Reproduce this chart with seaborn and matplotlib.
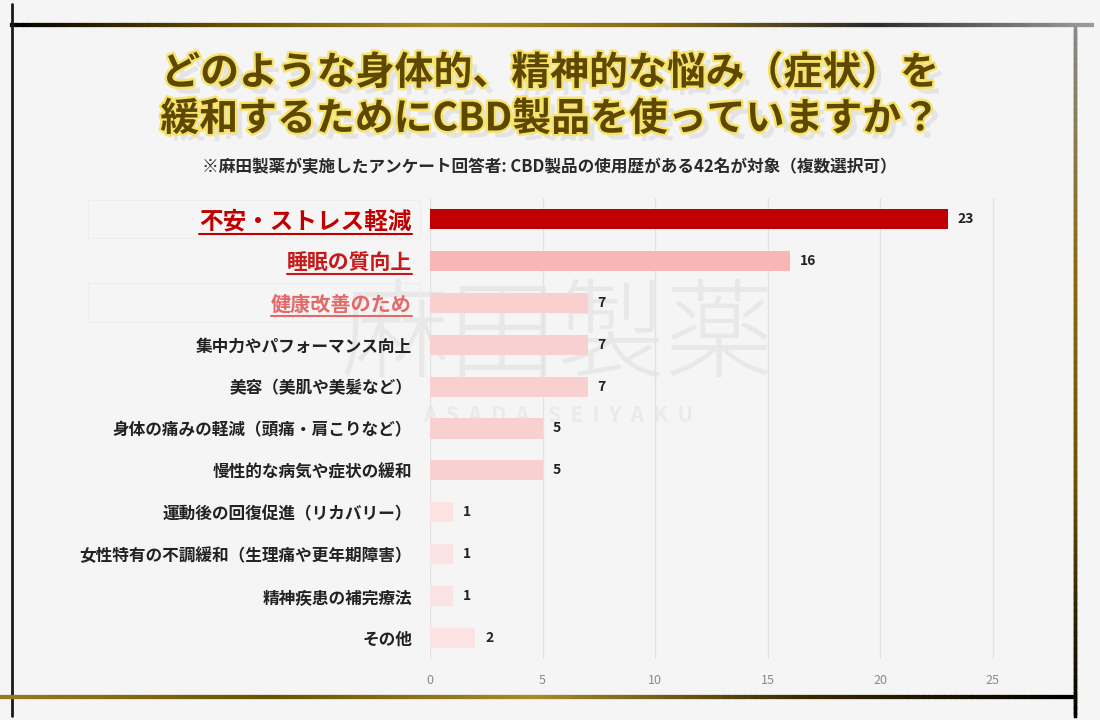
import numpy as np
import pandas as pd
import matplotlib
matplotlib.use("Agg")
import matplotlib.pyplot as plt
import matplotlib.patheffects as pe
from matplotlib.collections import LineCollection
from matplotlib.colors import LinearSegmentedColormap
import seaborn as sns

# ─────────────────────────────────────────────
# DATA
# ─────────────────────────────────────────────
categories = [
    "不安・ストレス軽減",
    "睡眠の質向上",
    "健康改善のため",
    "集中力やパフォーマンス向上",
    "美容（美肌や美髪など）",
    "身体の痛みの軽減（頭痛・肩こりなど）",
    "慢性的な病気や症状の緩和",
    "運動後の回復促進（リカバリー）",
    "女性特有の不調緩和（生理痛や更年期障害）",
    "精神疾患の補完療法",
    "その他",
]
counts = [23, 16, 7, 7, 7, 5, 5, 1, 1, 1, 2]
bar_colors = ["#C00000", "#F8B6B6", "#F9D0D0", "#F9D0D0", "#F9D0D0",
              "#F9D0D0", "#F9D0D0", "#FBE3E3", "#FBE3E3", "#FBE3E3", "#FBE3E3"]
x_ticks = [0, 5, 10, 15, 20, 25]

title_lines = ["どのような身体的、精神的な悩み（症状）を",
               "緩和するためにCBD製品を使っていますか？"]
subtitle = "※麻田製薬が実施したアンケート回答者: CBD製品の使用歴がある42名が対象（複数選択可）"

df = pd.DataFrame({"category": categories, "count": counts})

# ─────────────────────────────────────────────
# STYLE
# ─────────────────────────────────────────────
sns.set_theme(style="white")
plt.rcParams['font.family'] = ['Noto Sans CJK JP', 'DejaVu Sans']
BG = "#F5F5F5"

fig = plt.figure(figsize=(11, 7.2), dpi=100, facecolor=BG)
W, H = 1100, 720

def fx(px):
    return px / W

def fy(py):
    return 1 - py / H

# axes: x=0 at 430px, 22.5 px per unit
ax_left, ax_top, ax_bottom = 430, 198, 659
xmax = 26.0
ax_right = ax_left + 22.5 * xmax
ax = fig.add_axes([fx(ax_left), fy(ax_bottom), fx(ax_right - ax_left),
                   (ax_bottom - ax_top) / H])
ax.set_facecolor("none")

# watermark behind the bars
ax.text(fx(558), fy(338), "麻田製薬", fontsize=78, color="#E8E8E8",
        ha="center", va="center", weight="light", zorder=0.1,
        transform=fig.transFigure, clip_on=False)
ax.text(fx(558), fy(416), "A  S  A  D  A    S  E  I  Y  A  K  U", fontsize=15,
        color="#EAEAEA", ha="center", va="center", weight="bold", zorder=0.1,
        transform=fig.transFigure, clip_on=False)

sns.barplot(data=df, x="count", y="category", hue="category",
            palette=bar_colors, legend=False, orient="h", width=0.48,
            ax=ax, saturation=1, linewidth=0)
for p in ax.patches:
    p.set_zorder(3)

ax.set_xlim(0, xmax)
ax.set_xticks(x_ticks)
ax.set_xticklabels([str(t) for t in x_ticks], color="#8A8A8A", fontsize=9)
ax.tick_params(axis="x", length=0, pad=11)
ax.tick_params(axis="y", length=0, pad=13)
ax.grid(axis="x", color="#E2E2E2", linewidth=1, zorder=0)
ax.grid(axis="y", visible=False)
for s in ax.spines.values():
    s.set_visible(False)
ax.set_xlabel("")
ax.set_ylabel("")

# value labels
for i, v in enumerate(counts):
    ax.text(v + 0.45, i, str(v), va="center", ha="left", fontsize=10,
            weight="bold", color="#222222", zorder=4)

# y tick label styling
label_styles = [("#C00000", 17), ("#C81818", 15), ("#E46A6A", 14.5)]
ticklabels = ax.get_yticklabels()
for i, lab in enumerate(ticklabels):
    lab.set_fontweight("bold")
    if i < 3:
        lab.set_color(label_styles[i][0])
        lab.set_fontsize(label_styles[i][1])
    else:
        lab.set_color("#222222")
        lab.set_fontsize(12)

# underline the highlighted labels
fig.canvas.draw()
renderer = fig.canvas.get_renderer()
for i in range(3):
    bb = ticklabels[i].get_window_extent(renderer)
    x0, x1 = bb.x0 / W, bb.x1 / W
    yline = (bb.y0 - 1.0) / H
    fig.add_artist(plt.Line2D([x0, x1], [yline, yline], color=label_styles[i][0],
                              linewidth=1.5, transform=fig.transFigure))

# faint boxes around first and third label rows
for (y0, y1) in [(200, 238), (283, 322)]:
    fig.add_artist(plt.Rectangle((fx(88), fy(y1)), fx(420 - 88), (y1 - y0) / H,
                                 fill=False, edgecolor="#EDEDED", linewidth=0.8,
                                 transform=fig.transFigure))

# ─────────────────────────────────────────────
# TITLE
# ─────────────────────────────────────────────
glow = [pe.withSimplePatchShadow(offset=(5, -5), shadow_rgbFace="#A8A8A8", alpha=0.22),
        pe.Stroke(linewidth=3.5, foreground="#F6E46A"),
        pe.Normal()]
for k, line in enumerate(title_lines):
    fig.text(fx(550), fy(73 + 46 * k), line, fontsize=28, weight="bold",
             color="#5E4700", ha="center", va="center", path_effects=glow)

fig.text(fx(549), fy(167), subtitle, fontsize=12, weight="bold",
         color="#2A2A2A", ha="center", va="center")

# ─────────────────────────────────────────────
# GOLD FRAME
# ─────────────────────────────────────────────
frame_cmap = LinearSegmentedColormap.from_list(
    "frame", ["#000000", "#6B5200", "#A88A2A", "#8A6A10", "#2A2A2A", "#9A9A9A"])
frame_cmap_r = LinearSegmentedColormap.from_list(
    "frame_r", ["#9A7A20", "#6B5200", "#A88A2A", "#3A2A00", "#000000"])
frame_cmap_v = LinearSegmentedColormap.from_list(
    "frame_v", ["#888888", "#8A6A10", "#6B5200", "#000000"])

def grad_line(x0, y0, x1, y1, cmap, lw):
    n = 200
    xs = np.linspace(fx(x0), fx(x1), n)
    ys = np.linspace(fy(y0), fy(y1), n)
    pts = np.array([xs, ys]).T.reshape(-1, 1, 2)
    segs = np.concatenate([pts[:-1], pts[1:]], axis=1)
    lc = LineCollection(segs, cmap=cmap, linewidths=lw, transform=fig.transFigure,
                        capstyle="projecting")
    lc.set_array(np.linspace(0, 1, n - 1))
    fig.add_artist(lc)

grad_line(12, 25, 1092, 25, frame_cmap, 3.0)
fig.add_artist(plt.Line2D([fx(12), fx(12)], [fy(4), fy(716)], color="#1A1A1A",
                          linewidth=2.0, transform=fig.transFigure))
grad_line(0, 697, 1075, 697, frame_cmap_r, 3.0)
grad_line(1075, 28, 1075, 716, frame_cmap_v, 2.5)

fig.savefig("out.png", dpi=100, facecolor=BG)
